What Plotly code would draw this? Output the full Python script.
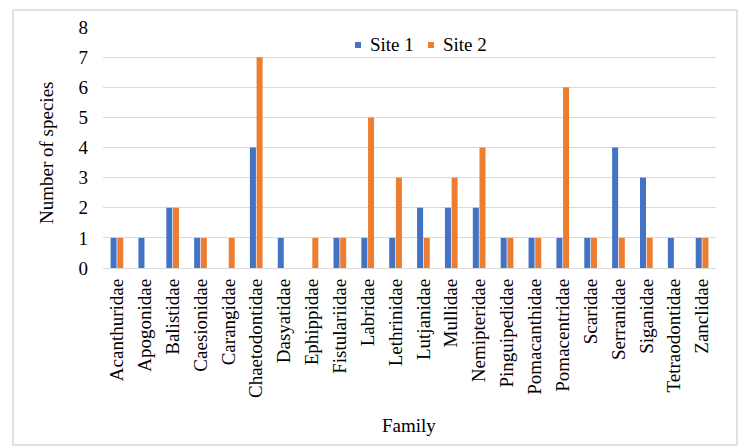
import plotly.graph_objects as go

families = [
    "Acanthuridae", "Apogonidae", "Balistidae", "Caesionidae", "Carangidae",
    "Chaetodontidae", "Dasyatidae", "Ephippidae", "Fistulariidae", "Labridae",
    "Lethrinidae", "Lutjanidae", "Mullidae", "Nemipteridae", "Pinguipedidae",
    "Pomacanthidae", "Pomacentridae", "Scaridae", "Serranidae", "Siganidae",
    "Tetraodontidae", "Zanclidae",
]
site1 = [1, 1, 2, 1, 0, 4, 1, 0, 1, 1, 1, 2, 2, 2, 1, 1, 1, 1, 4, 3, 1, 1]
site2 = [1, 0, 2, 1, 1, 7, 0, 1, 1, 5, 3, 1, 3, 4, 1, 1, 6, 1, 1, 1, 0, 1]
series_names = ["Site 1", "Site 2"]
y_ticks = list(range(0, 9))

BLUE = "#4472C4"
ORANGE = "#ED7D31"
GRID = "#D9D9D9"
FONT = "Liberation Serif, Times New Roman, serif"

W, H = 742, 446
L, R, T, B = 103, 26, 27, 178
PW, PH = W - L - R, H - T - B


def px(x):
    return (x - L) / PW


def py(y):
    return (H - B - y) / PH


fig = go.Figure()
fig.add_trace(go.Bar(x=families, y=site1, name=series_names[0],
                     marker=dict(color=BLUE, line=dict(width=0)), showlegend=False))
fig.add_trace(go.Bar(x=families, y=site2, name=series_names[1],
                     marker=dict(color=ORANGE, line=dict(width=0)), showlegend=False))

shapes = [
    # outer chart border
    dict(type="rect", xref="paper", yref="paper",
         x0=px(13), x1=px(737), y0=py(445), y1=py(10),
         line=dict(color=GRID, width=1.5), fillcolor="rgba(0,0,0,0)", layer="below"),
]
annotations = [
    dict(text="Number of species", textangle=-90, xref="paper", yref="paper",
         x=px(46), y=py(153), xanchor="center", yanchor="middle", showarrow=False,
         font=dict(family=FONT, size=19, color="#000")),
    dict(text="Family", xref="paper", yref="paper",
         x=px(409), y=py(425), xanchor="center", yanchor="middle", showarrow=False,
         font=dict(family=FONT, size=19, color="#000")),
]

# legend entries: colour square + label
for name, color, sq_x in [(series_names[0], BLUE, 355), (series_names[1], ORANGE, 428)]:
    shapes.append(dict(type="rect", xref="paper", yref="paper",
                       x0=px(sq_x), x1=px(sq_x + 6), y0=py(48), y1=py(42),
                       line=dict(width=0), fillcolor=color))
    annotations.append(dict(text=name, xref="paper", yref="paper",
                            x=px(sq_x + 13), y=py(45), xanchor="left", yanchor="middle",
                            showarrow=False, font=dict(family=FONT, size=19, color="#000")))

fig.update_layout(
    width=W, height=H,
    margin=dict(l=L, r=R, t=T, b=B, autoexpand=False),
    paper_bgcolor="white", plot_bgcolor="white",
    barmode="group", bargap=0.52, bargroupgap=0.1,
    font=dict(family=FONT, size=19, color="#000"),
    shapes=shapes, annotations=annotations,
    xaxis=dict(tickangle=-90, showgrid=False, showline=False, zeroline=False,
               ticks="", ticklabelstandoff=6, tickfont=dict(size=19),
               automargin=False),
    yaxis=dict(range=[0, 8], tickvals=y_ticks, showgrid=True, gridcolor=GRID,
               gridwidth=1, zeroline=True, zerolinecolor=GRID, zerolinewidth=1,
               showline=False, ticks="", ticklabelstandoff=14,
               tickfont=dict(size=19), automargin=False),
)

fig.write_html("out.html")
